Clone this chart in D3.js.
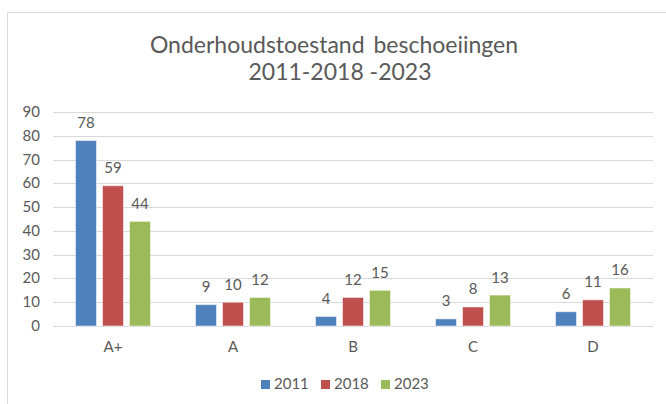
<!DOCTYPE html>
<html><head><meta charset="utf-8">
<script src="https://cdn.jsdelivr.net/npm/d3@7"></script>
<style>html,body{margin:0;padding:0;background:#fff;}svg{display:block;}text{font-family:Lato,"Open Sans",sans-serif;fill:#595959;}</style>
</head><body>
<svg id="c" width="666" height="404"></svg>
<script>
const categories = ["A+", "A", "B", "C", "D"];
const seriesNames = ["2011", "2018", "2023"];
const values2011 = [78, 9, 4, 3, 6];
const values2018 = [59, 10, 12, 8, 11];
const values2023 = [44, 12, 15, 13, 16];
const yTicks = [0, 10, 20, 30, 40, 50, 60, 70, 80, 90];
const colors = ["#4F81BD", "#C0504D", "#9BBB59"];
const titleLines = ["Onderhoudstoestand beschoeiingen", "2011-2018 -2023"];

const seriesValues = [values2011, values2018, values2023];
const svg = d3.select("#c");
svg.append("rect").attr("width",666).attr("height",404).attr("fill","#fff");
// chart frame
svg.append("path").attr("d","M7.5,404V12.5H666").attr("fill","none").attr("stroke","#d9d9d9").attr("stroke-width",1);

const x = d3.scaleBand().domain(categories).range([53,653]);
const y = d3.scaleLinear().domain([0,90]).range([326,112]);
const xs = d3.scaleBand().domain(seriesNames).range([0,75]).paddingInner(6/27);
const groupOff = (x.bandwidth()-75)/2;

// gridlines
svg.append("g").selectAll("line").data(yTicks).join("line")
  .attr("x1",53).attr("x2",653)
  .attr("y1",d=>Math.round(y(d))+0.5).attr("y2",d=>Math.round(y(d))+0.5)
  .attr("stroke","#d9d9d9").attr("stroke-width",1);

// y labels
svg.append("g").selectAll("text").data(yTicks).join("text")
  .attr("x",40).attr("y",d=>y(d)+5).attr("text-anchor","end")
  .attr("font-size",15).text(d=>d);

// bars
seriesNames.forEach((s,si)=>{
  const g = svg.append("g");
  g.selectAll("rect").data(categories).join("rect")
    .attr("x",(c)=>x(c)+groupOff+xs(s))
    .attr("y",(c,i)=>y(seriesValues[si][i]))
    .attr("width",xs.bandwidth())
    .attr("height",(c,i)=>y(0)-y(seriesValues[si][i]))
    .attr("fill",colors[si])
    .attr("stroke","#ffffff").attr("stroke-opacity",0.5).attr("stroke-width",1);
  g.selectAll("text").data(categories).join("text")
    .attr("x",(c)=>x(c)+groupOff+xs(s)+xs.bandwidth()/2)
    .attr("y",(c,i)=>y(seriesValues[si][i])-12.5)
    .attr("text-anchor","middle").attr("font-size",15)
    .text((c,i)=>seriesValues[si][i]);
});

// category labels
svg.append("g").selectAll("text").data(categories).join("text")
  .attr("x",c=>x(c)+x.bandwidth()/2).attr("y",352)
  .attr("text-anchor","middle").attr("font-size",15).text(c=>c);

// title
svg.append("text").attr("x",334).attr("y",53).attr("text-anchor","middle").attr("font-size",23).attr("word-spacing",3).text(titleLines[0]);
svg.append("text").attr("x",340).attr("y",80).attr("text-anchor","middle").attr("font-size",23).text(titleLines[1]);

// legend
const legX = [261, 321, 381];
const leg = svg.append("g");
seriesNames.forEach((s,i)=>{
  leg.append("rect").attr("x",legX[i]).attr("y",380).attr("width",9).attr("height",9).attr("fill",colors[i]);
  leg.append("text").attr("x",legX[i]+13).attr("y",389).attr("font-size",15).text(s);
});
</script>
</body></html>
